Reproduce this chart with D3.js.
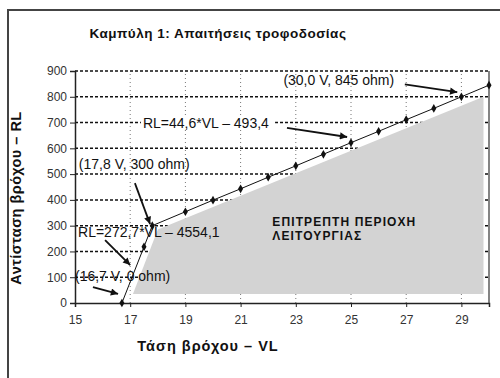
<!DOCTYPE html>
<html>
<head>
<meta charset="utf-8">
<script src="https://cdn.jsdelivr.net/npm/d3@7"></script>
<style>
  body { margin: 0; background: #fff; }
  text { font-family: "Liberation Sans", Arial, sans-serif; }
</style>
</head>
<body>
<svg id="chart"></svg>
<script>
// data
var vl = [16.7, 17.5, 17.8, 19, 20, 21, 22, 23, 24, 25, 26, 27, 28, 29, 30];
var rl = [0, 218, 300, 354, 399, 443, 488, 532, 577, 622, 666, 711, 755, 800, 845];
// allowed operating region (grey area), VL / RL corners
var areaVL = [17.1, 18.0, 29.8, 29.8];
var areaRL = [35, 285, 800, 35];
var xTicks = [15, 17, 19, 21, 23, 25, 27, 29];
var yTicks = [0, 100, 200, 300, 400, 500, 600, 700, 800, 900];
var noteText = ["(30,0 V, 845 ohm)", "RL=44,6*VL \u2013 493,4", "(17,8 V, 300 ohm)", "RL=272,7*VL \u2013 4554,1", "(16,7 V, 0 ohm)"];
// label anchor and arrow start/end in chart units
var noteAt = [[22.55, 865], [17.46, 698], [15.14, 539], [15.11, 275], [15.0, 105]];
var arrowFrom = [[26.95, 848], [22.68, 679], [17.17, 465], [16.09, 244], [15.65, 62]];
var arrowTo = [[28.85, 818], [24.86, 644], [17.72, 306], [17.0, 147], [16.56, 35]];

document.addEventListener("DOMContentLoaded", function() {
	var width = 500, height = 378;
	var svg = d3.select("#chart").attr("width", width).attr("height", height);

	var x = d3.scaleLinear().domain([15, 30]).range([75, 489]);
	var y = d3.scaleLinear().domain([0, 900]).range([303, 71]);

	// outer frame (only left and top edges show)
	svg.append("path").attr("d", "M8,380 V10 H502")
		.attr("fill", "none").attr("stroke", "#444").attr("stroke-width", 2);

	svg.append("defs").append("marker")
		.attr("id", "arrow").attr("viewBox", "0 0 10 10")
		.attr("refX", 10).attr("refY", 5)
		.attr("markerWidth", 5).attr("markerHeight", 4)
		.attr("markerUnits", "strokeWidth")
		.attr("orient", "auto")
		.append("path").attr("d", "M0,0 L10,5 L0,10 z").attr("fill", "#111");

	// grid
	svg.append("g").selectAll("line").data(xTicks.slice(1)).enter().append("line")
		.attr("x1", function(d) { return x(d); }).attr("x2", function(d) { return x(d); })
		.attr("y1", y(0)).attr("y2", y(900))
		.attr("stroke", "#777").attr("stroke-width", 1).attr("stroke-dasharray", "1,3");
	svg.append("g").selectAll("line").data(yTicks.slice(1)).enter().append("line")
		.attr("x1", x(15)).attr("x2", x(30))
		.attr("y1", function(d) { return y(d); }).attr("y2", function(d) { return y(d); })
		.attr("stroke", "#111").attr("stroke-width", 1.5).attr("stroke-dasharray", "3,2");

	// grey region
	var area = areaVL.map(function(v, i) { return [x(v), y(areaRL[i])]; });
	svg.append("path").attr("d", d3.line()(area) + "Z").attr("fill", "#d3d3d3");

	svg.selectAll(".zone").data(["ΕΠΙΤΡΕΠΤΗ ΠΕΡΙΟΧΗ", "ΛΕΙΤΟΥΡΓΙΑΣ"]).enter().append("text")
		.attr("class", "zone")
		.attr("x", x(22.15)).attr("y", function(d, i) { return y(300) + i * 14; })
		.attr("font-size", 12).attr("font-weight", "bold").attr("fill", "#111")
		.attr("letter-spacing", 1.1)
		.text(function(d) { return d; });

	// axes
	var xAxis = svg.append("g").attr("transform", "translate(0," + y(0) + ")")
		.call(d3.axisBottom(x).tickValues(xTicks).tickSize(4).tickPadding(8));
	var yAxis = svg.append("g").attr("transform", "translate(" + x(15) + ",0)")
		.call(d3.axisLeft(y).tickValues(yTicks).tickSize(5).tickPadding(3));
	[xAxis, yAxis].forEach(function(a) {
		a.select(".domain").attr("stroke", "#222").attr("stroke-width", 1.5);
		a.selectAll(".tick line").attr("stroke", "#222");
		a.selectAll(".tick text").attr("font-size", 12).attr("fill", "#333")
			.attr("font-family", "'Liberation Sans', Arial, sans-serif");
	});
	svg.append("line").attr("x1", x(30)).attr("x2", x(30)).attr("y1", y(0)).attr("y2", y(900))
		.attr("stroke", "#333").attr("stroke-width", 1.2);

	// notes
	noteText.forEach(function(t, i) {
		var bg = svg.append("rect").attr("fill", "#fff");
		var tx = svg.append("text").attr("x", x(noteAt[i][0])).attr("y", y(noteAt[i][1]))
			.attr("dy", "0.35em").attr("font-size", 14).attr("fill", "#111").text(t);
		if (i == 1) {
			var b = tx.node().getBBox();
			bg.attr("x", b.x - 2).attr("y", b.y + 2).attr("width", b.width + 8).attr("height", b.height - 4);
		} else {
			bg.remove();
		}
		svg.append("line")
			.attr("x1", x(arrowFrom[i][0])).attr("y1", y(arrowFrom[i][1]))
			.attr("x2", x(arrowTo[i][0])).attr("y2", y(arrowTo[i][1]))
			.attr("stroke", "#111").attr("stroke-width", 1.8)
			.attr("marker-end", "url(#arrow)");
	});

	// curve
	var pts = vl.map(function(v, i) { return [x(v), y(rl[i])]; });
	svg.append("path").attr("d", d3.line()(pts))
		.attr("fill", "none").attr("stroke", "#111").attr("stroke-width", 1);
	svg.append("g").selectAll("path").data(pts).enter().append("path")
		.attr("d", d3.symbol().type(d3.symbolDiamond).size(22))
		.attr("transform", function(d) { return "translate(" + d[0] + "," + d[1] + ")"; })
		.attr("fill", "#111");

	// titles
	svg.append("text").attr("x", 218).attr("y", 38).attr("text-anchor", "middle")
		.attr("font-size", 13.5).attr("font-weight", "bold").attr("fill", "#111")
		.attr("letter-spacing", 0.5)
		.text("Καμπύλη 1: Απαιτήσεις τροφοδοσίας");
	svg.append("text").attr("x", 208).attr("y", 351).attr("text-anchor", "middle")
		.attr("font-size", 14.5).attr("font-weight", "bold").attr("fill", "#111")
		.attr("letter-spacing", 1)
		.text("Τάση βρόχου – VL");
	svg.append("text").attr("transform", "translate(21,198) rotate(-90)").attr("text-anchor", "middle")
		.attr("font-size", 14.5).attr("font-weight", "bold").attr("fill", "#111")
		.attr("letter-spacing", 0.5)
		.text("Αντίσταση βρόχου – RL");
});
</script>
</body>
</html>
